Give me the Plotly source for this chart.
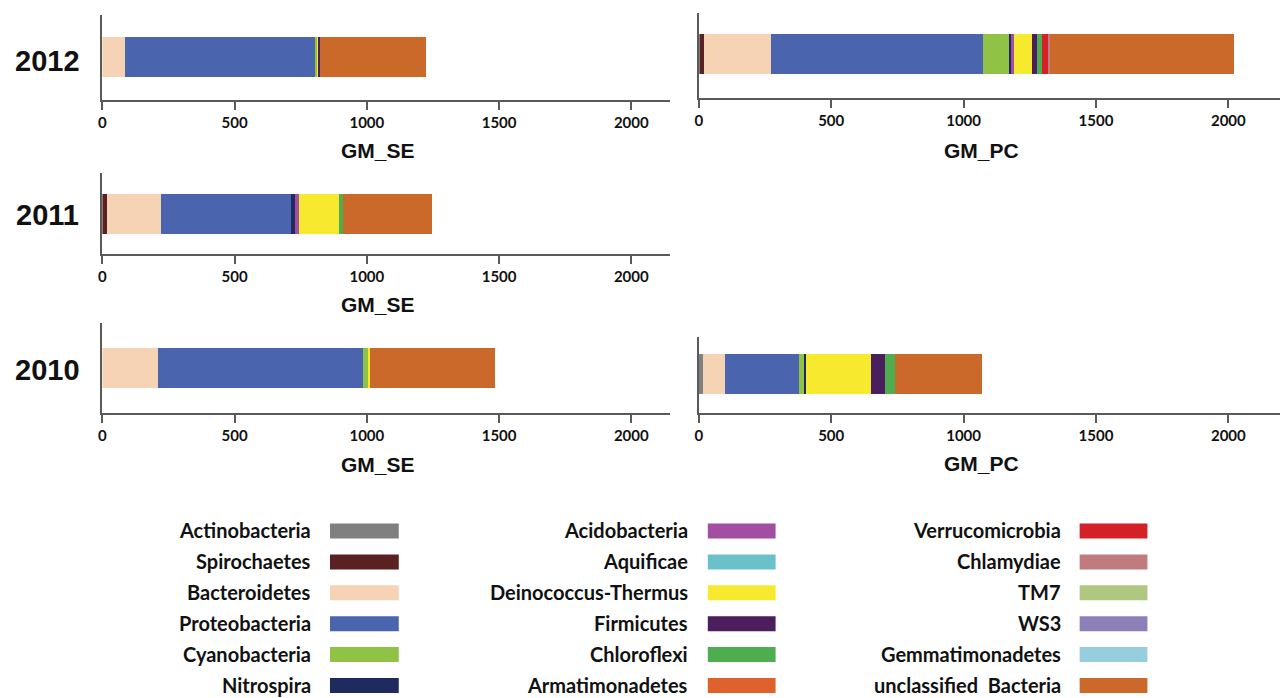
import plotly.graph_objects as go

W, H = 1285, 698

phyla = ["Actinobacteria", "Spirochaetes", "Bacteroidetes", "Proteobacteria", "Cyanobacteria",
         "Nitrospira", "Acidobacteria", "Aquificae", "Deinococcus-Thermus", "Firmicutes",
         "Chloroflexi", "Armatimonadetes", "Verrucomicrobia", "Chlamydiae", "TM7", "WS3",
         "Gemmatimonadetes", "unclassified  Bacteria"]

colors = ["#808080", "#5A2022", "#F6D3B4", "#4A64AE", "#8FC245",
          "#1F2A5E", "#A24FA2", "#6AC1C9", "#F7EA2E", "#4B1F5E",
          "#4EAD4E", "#DF612B", "#D42128", "#C07B7C", "#AFC77F", "#8D80B9",
          "#96CEDE", "#CB692B"]

# values per panel, in phyla order
gm_se_2012 = [0, 0, 87, 721, 6, 0, 0, 0, 4, 3, 0, 0, 0, 0, 0, 0, 0, 404]
gm_pc_2012 = [5, 15, 254, 801, 95, 9, 10, 0, 70, 19, 18, 0, 23, 9, 0, 0, 0, 694]
gm_se_2011 = [0, 16, 204, 493, 0, 16, 13, 0, 153, 0, 16, 0, 0, 0, 0, 0, 0, 337]
gm_se_2010 = [0, 0, 211, 773, 21, 0, 0, 0, 8, 0, 0, 0, 0, 0, 0, 0, 0, 471]
gm_pc_2010 = [16, 0, 84, 280, 19, 6, 0, 0, 245, 53, 38, 0, 0, 0, 0, 0, 0, 328]

years = ["2012", "2011", "2010"]
tick_vals = [0, 500, 1000, 1500, 2000]

# panel: (values, x0, x1, top, bottom, bar centre, xmax, title)
panels = [
    (gm_se_2012, 98.7, 668, 15, 100, 57, 2146, "GM_SE"),
    (gm_pc_2012, 697, 1280, 13, 98, 53.5, 2195, "GM_PC"),
    (gm_se_2011, 98.7, 668, 173, 254, 214, 2146, "GM_SE"),
    (gm_se_2010, 98.7, 668, 323, 413, 367.5, 2146, "GM_SE"),
    (gm_pc_2010, 697, 1280, 337, 413, 374, 2195, "GM_PC"),
]
title_y = [150, 150, 304, 464, 463]

fig = go.Figure()
layout = {}
annotations = []
axcol = "#5a5a5a"
PXU = 40.0  # pixels per bar unit

for i, (vals, x0, x1, top, bot, cen, xmax, ttl) in enumerate(panels):
    n = "" if i == 0 else str(i + 1)
    for name, col, v in zip(phyla, colors, vals):
        if v <= 0:
            continue
        fig.add_trace(go.Bar(x=[v], y=[0], orientation="h", width=1,
                             marker=dict(color=col, line=dict(width=0)),
                             name=name, showlegend=False,
                             xaxis="x" + n, yaxis="y" + n,
                             hovertemplate=name + ": %{x}<extra></extra>"))
    layout["xaxis" + n] = dict(domain=[x0 / W, x1 / W], range=[0, xmax], anchor="y" + n,
                               tickvals=tick_vals, showline=True, linecolor=axcol, linewidth=2,
                               ticks="outside", ticklen=8, tickwidth=2, tickcolor=axcol,
                               showgrid=False, zeroline=False,
                               tickfont=dict(family="Lato", size=15, color="#111", weight="bold"))
    layout["yaxis" + n] = dict(domain=[1 - bot / H, 1 - top / H],
                               range=[-(bot - cen) / PXU, (cen - top) / PXU], anchor="x" + n,
                               showline=True, linecolor=axcol, linewidth=2,
                               showticklabels=False, ticks="", showgrid=False, zeroline=False)
    annotations.append(dict(text=ttl, x=(x0 + x1) / 2 / W - 8 / W, y=1 - title_y[i] / H,
                            xref="paper", yref="paper", showarrow=False,
                            xanchor="center", yanchor="middle",
                            font=dict(family="Arial", size=21, color="#111", weight="bold")))

for yr, yc in zip(years, [61, 215, 370]):
    annotations.append(dict(text=yr, x=44 / W, y=1 - yc / H, xref="paper", yref="paper",
                            showarrow=False, xanchor="center", yanchor="middle",
                            font=dict(family="Arial", size=29, color="#111", weight="bold")))

# legend built as text + swatches
shapes = []
col_text_right = [310, 688, 1062]
col_sw = [(327, 396), (706, 774), (1079, 1147)]
for k, (name, col) in enumerate(zip(phyla, colors)):
    c, r = divmod(k, 6)
    yc = 531 + 30.9 * r
    annotations.append(dict(text=name, x=col_text_right[c] / W, y=1 - (yc - 1) / H,
                            xref="paper", yref="paper", showarrow=False,
                            xanchor="right", yanchor="middle",
                            font=dict(family="Lato", size=20, color="#111", weight="bold")))
    sx0, sx1 = col_sw[c]
    shapes.append(dict(type="rect", xref="paper", yref="paper",
                       x0=sx0 / W, x1=sx1 / W, y0=1 - (yc + 7.5) / H, y1=1 - (yc - 7.5) / H,
                       fillcolor=col, line=dict(width=0)))

fig.update_layout(width=W, height=H, margin=dict(l=0, r=0, t=0, b=0),
                  paper_bgcolor="white", plot_bgcolor="white",
                  barmode="stack", showlegend=False,
                  annotations=annotations, shapes=shapes, **layout)

fig.write_html("out.html", config={"displayModeBar": False},
               post_script="document.body.style.margin='0';document.body.style.padding='0';"
                           "document.body.style.overflow='hidden';")
